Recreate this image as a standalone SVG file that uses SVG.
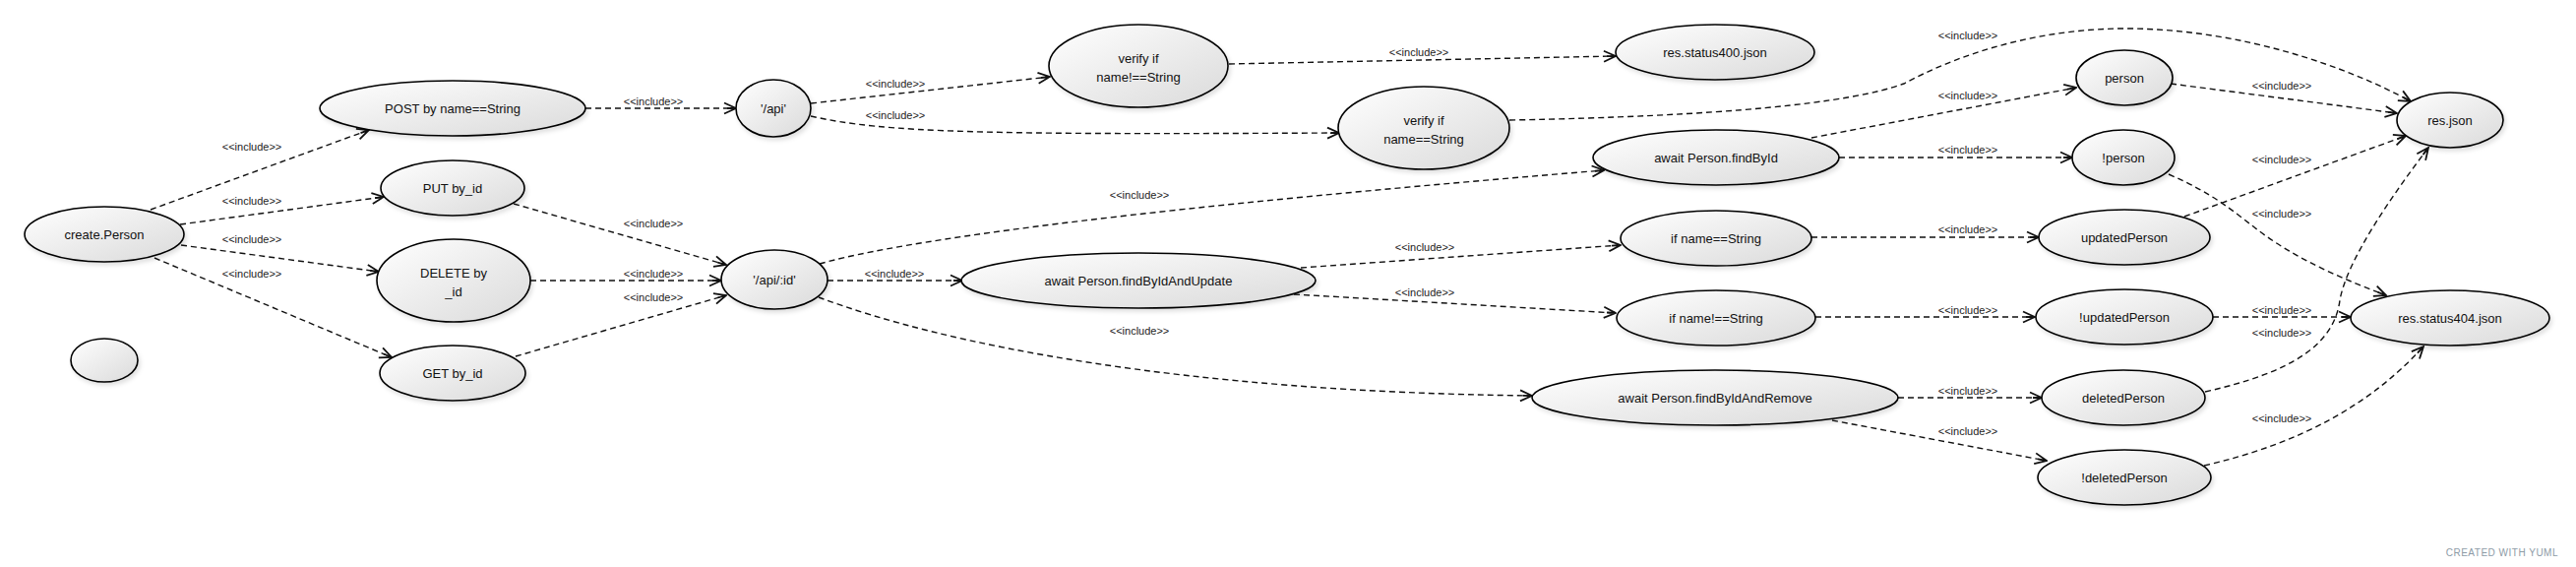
<svg xmlns="http://www.w3.org/2000/svg" width="2618" height="576" viewBox="0 0 2618 576">
<style>
.node ellipse{fill:url(#g);stroke:#000;stroke-width:1.6;filter:url(#sh)}
.node text{font-family:"Liberation Sans",Arial,sans-serif;font-size:13px;fill:#111;text-anchor:middle}
.edges path{fill:none;stroke:#111;stroke-width:1.4;stroke-dasharray:6 4;marker-end:url(#arr)}
.lbl{font-family:"Liberation Sans",Arial,sans-serif;font-size:11px;fill:#222;text-anchor:middle}
</style>
<defs>
<linearGradient id="g" x1="0" y1="0" x2="1" y2="1">
<stop offset="0" stop-color="#ffffff"/>
<stop offset="1" stop-color="#dadada"/>
</linearGradient>
<filter id="sh" x="-10%" y="-10%" width="130%" height="140%">
<feDropShadow dx="2" dy="3" stdDeviation="2" flood-color="#000" flood-opacity="0.12"/>
</filter>
<marker id="arr" viewBox="0 0 14 14" refX="13" refY="7" markerWidth="14" markerHeight="14" markerUnits="userSpaceOnUse" orient="auto">
<path d="M1,1.5 L13,7 L1,12.5 M4,7 L13,7" fill="none" stroke="#111" stroke-width="1.8"/>
</marker>
</defs>
<rect width="2618" height="576" fill="#fff"/>
<g class="edges" id="connectors">
<path d="M153,213 L375,132"/>
<path d="M183,228 L390,200"/>
<path d="M184,249 L385,276"/>
<path d="M157,262 L398,363"/>
<path d="M595,110 L748,110"/>
<path d="M522,207 L738,269"/>
<path d="M539,285 L733,285"/>
<path d="M524,362 L738,300"/>
<path d="M824,105 L1067,78"/>
<path d="M824,118 C900,135 1000,137 1361,135"/>
<path d="M1249,65 L1642,57"/>
<path d="M1534,122 C1750,118 1880,105 1935,85 C2000,50 2080,29 2160,29 C2280,29 2390,70 2450,103"/>
<path d="M833,268 C950,235 1300,200 1630,173"/>
<path d="M841,285 L978,285"/>
<path d="M832,302 C960,350 1200,398 1557,402"/>
<path d="M1841,140 L2110,89"/>
<path d="M1869,160 L2106,160"/>
<path d="M1322,272 L1647,249"/>
<path d="M1315,299 L1642,318"/>
<path d="M1929,404 L2075,404"/>
<path d="M1862,427 L2080,468"/>
<path d="M1841,241 L2072,241"/>
<path d="M1845,322 L2068,322"/>
<path d="M2206,85 L2436,115"/>
<path d="M2204,177 C2250,197 2270,215 2290,230 C2330,262 2380,283 2425,300"/>
<path d="M2220,220 L2445,138"/>
<path d="M2249,322 L2389,322"/>
<path d="M2241,398 C2330,378 2372,350 2378,305 C2385,265 2430,200 2468,150"/>
<path d="M2240,473 C2340,450 2410,410 2463,352"/>
</g>
<g id="edge-labels">
<text class="lbl" x="256" y="153">&lt;&lt;include&gt;&gt;</text>
<text class="lbl" x="256" y="208">&lt;&lt;include&gt;&gt;</text>
<text class="lbl" x="256" y="247">&lt;&lt;include&gt;&gt;</text>
<text class="lbl" x="256" y="282">&lt;&lt;include&gt;&gt;</text>
<text class="lbl" x="664" y="107">&lt;&lt;include&gt;&gt;</text>
<text class="lbl" x="664" y="231">&lt;&lt;include&gt;&gt;</text>
<text class="lbl" x="664" y="282">&lt;&lt;include&gt;&gt;</text>
<text class="lbl" x="664" y="306">&lt;&lt;include&gt;&gt;</text>
<text class="lbl" x="910" y="89">&lt;&lt;include&gt;&gt;</text>
<text class="lbl" x="910" y="121">&lt;&lt;include&gt;&gt;</text>
<text class="lbl" x="909" y="282">&lt;&lt;include&gt;&gt;</text>
<text class="lbl" x="1158" y="202">&lt;&lt;include&gt;&gt;</text>
<text class="lbl" x="1158" y="340">&lt;&lt;include&gt;&gt;</text>
<text class="lbl" x="1442" y="57">&lt;&lt;include&gt;&gt;</text>
<text class="lbl" x="1448" y="255">&lt;&lt;include&gt;&gt;</text>
<text class="lbl" x="1448" y="301">&lt;&lt;include&gt;&gt;</text>
<text class="lbl" x="2000" y="40">&lt;&lt;include&gt;&gt;</text>
<text class="lbl" x="2000" y="101">&lt;&lt;include&gt;&gt;</text>
<text class="lbl" x="2000" y="156">&lt;&lt;include&gt;&gt;</text>
<text class="lbl" x="2000" y="237">&lt;&lt;include&gt;&gt;</text>
<text class="lbl" x="2000" y="319">&lt;&lt;include&gt;&gt;</text>
<text class="lbl" x="2000" y="401">&lt;&lt;include&gt;&gt;</text>
<text class="lbl" x="2000" y="442">&lt;&lt;include&gt;&gt;</text>
<text class="lbl" x="2319" y="91">&lt;&lt;include&gt;&gt;</text>
<text class="lbl" x="2319" y="166">&lt;&lt;include&gt;&gt;</text>
<text class="lbl" x="2319" y="221">&lt;&lt;include&gt;&gt;</text>
<text class="lbl" x="2319" y="319">&lt;&lt;include&gt;&gt;</text>
<text class="lbl" x="2319" y="342">&lt;&lt;include&gt;&gt;</text>
<text class="lbl" x="2319" y="429">&lt;&lt;include&gt;&gt;</text>
</g>
<g class="node" id="n-create-person"><ellipse cx="106" cy="238" rx="81" ry="28"/><text x="106" y="243">create.Person</text></g>
<g class="node" id="n-empty"><ellipse cx="106" cy="366" rx="34" ry="22"/></g>
<g class="node" id="n-post"><ellipse cx="460" cy="110" rx="135" ry="28"/><text x="460" y="115">POST by name==String</text></g>
<g class="node" id="n-put"><ellipse cx="460" cy="191" rx="73" ry="28"/><text x="460" y="196">PUT by_id</text></g>
<g class="node" id="n-delete"><ellipse cx="461" cy="285" rx="78" ry="42"/><text x="461" y="282">DELETE by</text><text x="461" y="301">_id</text></g>
<g class="node" id="n-get"><ellipse cx="460" cy="379" rx="74" ry="28"/><text x="460" y="384">GET by_id</text></g>
<g class="node" id="n-api"><ellipse cx="786" cy="110" rx="38" ry="29"/><text x="786" y="115">'/api'</text></g>
<g class="node" id="n-apiid"><ellipse cx="787" cy="284" rx="54" ry="30"/><text x="787" y="289">'/api/:id'</text></g>
<g class="node" id="n-verify-neq"><ellipse cx="1157" cy="67" rx="91" ry="42"/><text x="1157" y="64">verify if</text><text x="1157" y="83">name!==String</text></g>
<g class="node" id="n-verify-eq"><ellipse cx="1447" cy="130" rx="87" ry="42"/><text x="1447" y="127">verify if</text><text x="1447" y="146">name==String</text></g>
<g class="node" id="n-status400"><ellipse cx="1743" cy="53" rx="101" ry="28"/><text x="1743" y="58">res.status400.json</text></g>
<g class="node" id="n-findbyid"><ellipse cx="1744" cy="160" rx="125" ry="28"/><text x="1744" y="165">await Person.findById</text></g>
<g class="node" id="n-update"><ellipse cx="1157" cy="285" rx="180" ry="28"/><text x="1157" y="290">await Person.findByIdAndUpdate</text></g>
<g class="node" id="n-ifeq"><ellipse cx="1744" cy="242" rx="97" ry="28"/><text x="1744" y="247">if name==String</text></g>
<g class="node" id="n-ifneq"><ellipse cx="1744" cy="323" rx="101" ry="28"/><text x="1744" y="328">if name!==String</text></g>
<g class="node" id="n-remove"><ellipse cx="1743" cy="404" rx="186" ry="28"/><text x="1743" y="409">await Person.findByIdAndRemove</text></g>
<g class="node" id="n-person"><ellipse cx="2159" cy="79" rx="49" ry="28"/><text x="2159" y="84">person</text></g>
<g class="node" id="n-notperson"><ellipse cx="2158" cy="160" rx="52" ry="28"/><text x="2158" y="165">!person</text></g>
<g class="node" id="n-updated"><ellipse cx="2159" cy="241" rx="87" ry="28"/><text x="2159" y="246">updatedPerson</text></g>
<g class="node" id="n-notupdated"><ellipse cx="2159" cy="322" rx="90" ry="28"/><text x="2159" y="327">!updatedPerson</text></g>
<g class="node" id="n-deleted"><ellipse cx="2158" cy="404" rx="83" ry="28"/><text x="2158" y="409">deletedPerson</text></g>
<g class="node" id="n-notdeleted"><ellipse cx="2159" cy="485" rx="88" ry="28"/><text x="2159" y="490">!deletedPerson</text></g>
<g class="node" id="n-resjson"><ellipse cx="2490" cy="122" rx="54" ry="28"/><text x="2490" y="127">res.json</text></g>
<g class="node" id="n-status404"><ellipse cx="2490" cy="323" rx="101" ry="28"/><text x="2490" y="328">res.status404.json</text></g>
<text x="2600" y="565" font-family="Liberation Sans, Arial, sans-serif" font-size="10" fill="#8d9ba6" text-anchor="end" letter-spacing="0.5">CREATED WITH YUML</text>
</svg>
